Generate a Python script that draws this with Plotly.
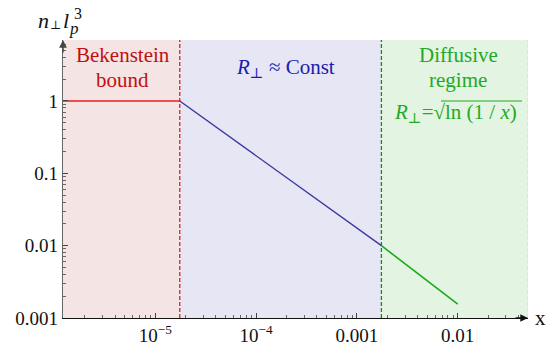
import numpy as np
import plotly.graph_objects as go

# axis extents (log10)
x_log_range = [-5.915, -1.303]
y_log_range = [-3.0, 0.843]

# regime boundaries in x
x_bek_edge = 1.75e-5
x_diff_edge = 1.75e-3

# curve segments
bek_x = [10 ** x_log_range[0], x_bek_edge]
bek_y = [1.0, 1.0]
const_x = [x_bek_edge, x_diff_edge]
const_y = [1.0, 0.01]
diff_x = [x_diff_edge, 0.01]
diff_y = [0.01, 0.00155]

# ticks
x_tickvals = [1e-5, 1e-4, 1e-3, 1e-2]
x_ticktext = ["10<sup>−5</sup>", "10<sup>−4</sup>", "0.001", "0.01"]
y_tickvals = [0.001, 0.01, 0.1, 1]
y_ticktext = ["0.001", "0.01", "0.1", "1"]

FONT = "Liberation Serif, Times New Roman, DejaVu Serif, serif"
W, H = 548, 358
L, R, T, B = 63, 20, 40, 31
PW, PH = W - L - R, H - T - B


def xp(v):
    return (np.log10(v) - x_log_range[0]) / (x_log_range[1] - x_log_range[0])


def px_x(p):
    return (p - L) / PW


def px_y(p):
    return (H - B - p) / PH


fig = go.Figure()

# background regions
regions = [
    (10 ** x_log_range[0], x_bek_edge, "#f5e4e4"),
    (x_bek_edge, x_diff_edge, "#e6e6f5"),
    (x_diff_edge, 10 ** x_log_range[1], "#e3f4e3"),
]
shapes = []
for x0, x1, col in regions:
    shapes.append(dict(type="rect", xref="paper", yref="paper",
                       x0=xp(x0), x1=xp(x1), y0=0, y1=1,
                       fillcolor=col, line=dict(width=0), layer="below"))

# overline of the square root
shapes.append(dict(type="line", xref="paper", yref="paper",
                   x0=px_x(441), x1=px_x(522), y0=px_y(103), y1=px_y(103),
                   line=dict(color="#22aa22", width=1.2)))

y_lo, y_hi = 10 ** y_log_range[0], 10 ** y_log_range[1]

# dashed regime borders
fig.add_trace(go.Scatter(x=[x_bek_edge, x_bek_edge], y=[y_lo, y_hi], mode="lines",
                         line=dict(color="#e02020", width=1.3, dash="4px,2px"), hoverinfo="skip"))
fig.add_trace(go.Scatter(x=[x_diff_edge, x_diff_edge], y=[y_lo, y_hi], mode="lines",
                         line=dict(color="#168c16", width=1.3, dash="4px,2px"), hoverinfo="skip"))
fig.add_trace(go.Scatter(x=[10 ** x_log_range[1] * 0.995] * 2, y=[y_lo, y_hi], mode="lines",
                         line=dict(color="#c8ecc8", width=1, dash="4px,2px"), hoverinfo="skip"))

# curves
fig.add_trace(go.Scatter(x=bek_x, y=bek_y, mode="lines",
                         line=dict(color="#ee1c1c", width=1.6)))
fig.add_trace(go.Scatter(x=const_x, y=const_y, mode="lines",
                         line=dict(color="#3a3a9e", width=1.4)))
fig.add_trace(go.Scatter(x=diff_x, y=diff_y, mode="lines",
                         line=dict(color="#1aaa1a", width=1.6)))

red_txt = "#c01010"
blue_txt = "#1c1cb0"
green_txt = "#22aa22"

ann = []


def text(s, px, py, color, size=21, xanchor="center"):
    ann.append(dict(text=s, x=px_x(px), y=px_y(py), xref="paper", yref="paper",
                    showarrow=False, xanchor=xanchor, yanchor="middle",
                    font=dict(family=FONT, size=size, color=color)))


text("Bekenstein", 123, 56, red_txt)
text("bound", 122, 81, red_txt)
text("<i>R</i><sub>⊥</sub> ≈ Const", 285, 69, blue_txt)
text("Diffusive", 458, 56, green_txt)
text("regime", 458, 81, green_txt)
text("<i>R</i><sub>⊥</sub>=√ln (1 / <i>x</i>)", 455, 115, green_txt)

# axis title pieces: n_perp l_p^3
ink = "#111111"
text("<i>n</i>", 36, 20, ink, size=22, xanchor="left")
text("⊥", 48, 24, ink, size=12, xanchor="left")
text("<i>l</i>", 61, 20, ink, size=22, xanchor="left")
text("3", 72, 13, ink, size=16, xanchor="left")
text("<i>p</i>", 67, 28, ink, size=17, xanchor="left")
text("x", 540, 327, ink, size=21)

# axis arrows
ann.append(dict(x=0, y=1.0, xref="paper", yref="paper", ax=0, ay=14,
                showarrow=True, arrowhead=2, arrowsize=1.1, arrowwidth=1.4,
                arrowcolor="#444444", text=""))
ann.append(dict(x=1.0, y=0, xref="paper", yref="paper", ax=-14, ay=0,
                showarrow=True, arrowhead=2, arrowsize=1.1, arrowwidth=1.4,
                arrowcolor="#111111", text=""))

fig.update_layout(
    width=W, height=H,
    margin=dict(l=L, r=R, t=T, b=B),
    paper_bgcolor="white", plot_bgcolor="white",
    showlegend=False,
    font=dict(family=FONT),
    shapes=shapes,
    annotations=ann,
    xaxis=dict(type="log", range=x_log_range, showgrid=False, zeroline=False,
               showline=True, linecolor="#111111", linewidth=1.3,
               tickvals=x_tickvals, ticktext=x_ticktext,
               ticks="inside", ticklen=5, tickcolor="#444444",
               minor=dict(ticks="inside", ticklen=3, tickcolor="#666666", dtick="D1"),
               tickfont=dict(family=FONT, size=19, color="#111111")),
    yaxis=dict(type="log", range=y_log_range, showgrid=False, zeroline=False,
               showline=True, linecolor="#666666", linewidth=1.3,
               tickvals=y_tickvals, ticktext=y_ticktext,
               ticks="inside", ticklen=5, tickcolor="#444444",
               minor=dict(ticks="inside", ticklen=3, tickcolor="#666666", dtick="D1"),
               tickfont=dict(family=FONT, size=19, color="#111111")),
)

fig.write_html("out.html")
